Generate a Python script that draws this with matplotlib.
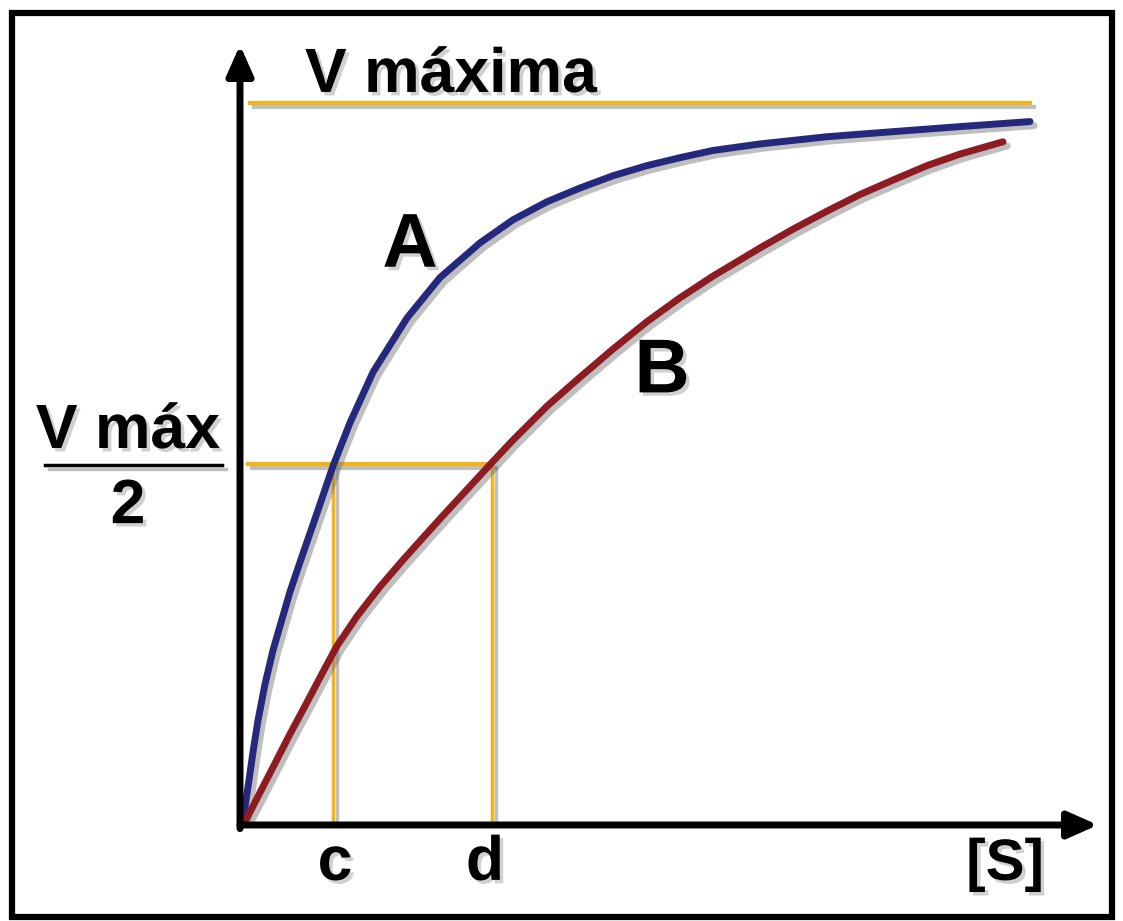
import matplotlib
matplotlib.use("Agg")
import matplotlib.pyplot as plt
import matplotlib.patheffects as pe
from matplotlib.patches import Rectangle

plt.rcParams['font.family'] = ['Liberation Sans', 'DejaVu Sans']

# Curva A (Km bajo) y curva B (Km alto)
s_a = [0, 0.01, 0.03, 0.06, 0.10, 0.15, 0.22, 0.30, 0.47, 0.57, 0.74, 0.90, 1.07, 1.30, 1.64,
       1.97, 2.37, 2.70, 3.04, 3.37, 3.70, 4.04, 4.37, 4.70, 5.17, 5.84, 6.50, 7.17, 7.87]
v_a = [0, 0.014, 0.035, 0.062, 0.101, 0.145, 0.195, 0.242, 0.323, 0.364, 0.432, 0.497, 0.557, 0.627,
       0.702, 0.758, 0.806, 0.838, 0.863, 0.882, 0.899, 0.913, 0.924, 0.934, 0.943, 0.953, 0.960,
       0.967, 0.974]

s_b = [0, 0.07, 0.30, 0.47, 0.64, 0.80, 0.94, 1.14, 1.37, 1.60, 1.97, 2.47, 2.70, 3.04,
       3.37, 3.70, 4.04, 4.37, 4.70, 5.17, 5.50, 5.84, 6.17, 6.50, 6.84, 7.17, 7.60]
v_b = [0, 0.018, 0.080, 0.126, 0.170, 0.212, 0.248, 0.289, 0.330, 0.367, 0.424, 0.499, 0.533, 0.580,
       0.620, 0.659, 0.697, 0.730, 0.760, 0.799, 0.825, 0.850, 0.873, 0.893, 0.913, 0.929, 0.946]

v_max = 1.0
s_c = 0.90   # Km de A
s_d = 2.49   # Km de B
s_fin = 7.87

amarillo = '#f2b418'
azul = '#25297e'
rojo = '#8e1b22'

sombra_linea = [pe.SimpleLineShadow(offset=(3, -3), shadow_color='0.45', alpha=0.45), pe.Normal()]
sombra_texto = [pe.withSimplePatchShadow(offset=(2.5, -2.5), shadow_rgbFace='0.4', alpha=0.3)]

fig = plt.figure(figsize=(11.23, 9.21), dpi=100)
ax = fig.add_axes([243 / 1123, 96 / 921, 855 / 1123, 780 / 921])
ax.set_xlim(0, 8.55)
ax.set_ylim(0, 1.08)
ax.axis('off')

# Marco exterior
fig.patches.append(Rectangle((12 / 1123, 4 / 921), 1100 / 1123, 904 / 921,
                             transform=fig.transFigure, fill=False, lw=4.5, ec='black'))

# Lineas de referencia (Vmax, Vmax/2, c, d)
ax.plot([0.07, s_fin], [v_max, v_max], color=amarillo, lw=3, path_effects=sombra_linea)
ax.plot([0.05, s_d], [v_max / 2, v_max / 2], color=amarillo, lw=3, path_effects=sombra_linea)
ax.plot([s_c, s_c], [0, v_max / 2], color=amarillo, lw=2.5, path_effects=sombra_linea)
ax.plot([s_d, s_d], [0, v_max / 2], color=amarillo, lw=2.5, path_effects=sombra_linea)

# Curvas
ax.plot(s_a, v_a, color=azul, lw=5, solid_capstyle='round', solid_joinstyle='round',
        path_effects=sombra_linea)
ax.plot(s_b, v_b, color=rojo, lw=5, solid_capstyle='round', solid_joinstyle='round',
        path_effects=sombra_linea)

# Ejes con flecha
flecha = dict(arrowstyle='-|>,head_length=0.9,head_width=0.4', lw=5, color='black',
              shrinkA=0, shrinkB=0, mutation_scale=20)
ax.annotate('', xy=(8.55, 0), xytext=(-0.03, 0), arrowprops=flecha, annotation_clip=False)
ax.annotate('', xy=(-0.03, 1.08), xytext=(-0.03, -0.005), arrowprops=flecha, annotation_clip=False)

txt = dict(fontsize=45, fontweight='bold', color='black', path_effects=sombra_texto)
ax.text(0.62, 1.015, 'V máxima', ha='left', va='baseline', **txt)
ax.text(1.67, 0.80, 'A', ha='center', va='center', fontsize=55, fontweight='bold',
        path_effects=sombra_texto)
ax.text(4.19, 0.626, 'B', ha='center', va='center', fontsize=55, fontweight='bold',
        path_effects=sombra_texto)
ax.text(-1.15, 0.522, 'V máx', ha='center', va='baseline', clip_on=False, **txt)
ax.plot([-1.98, -0.21], [0.4986, 0.4986], color='black', lw=2.5, clip_on=False,
        path_effects=sombra_linea)
ax.text(-1.15, 0.418, '2', ha='center', va='baseline', clip_on=False, **txt)
ax.text(0.92, -0.076, 'c', ha='center', va='baseline', clip_on=False, **txt)
ax.text(2.42, -0.076, 'd', ha='center', va='baseline', clip_on=False, **txt)
ax.text(7.62, -0.076, '[S]', ha='center', va='baseline', clip_on=False,
        fontsize=42, fontweight='bold', path_effects=sombra_texto)

fig.savefig('out.png', dpi=100, facecolor='white')
